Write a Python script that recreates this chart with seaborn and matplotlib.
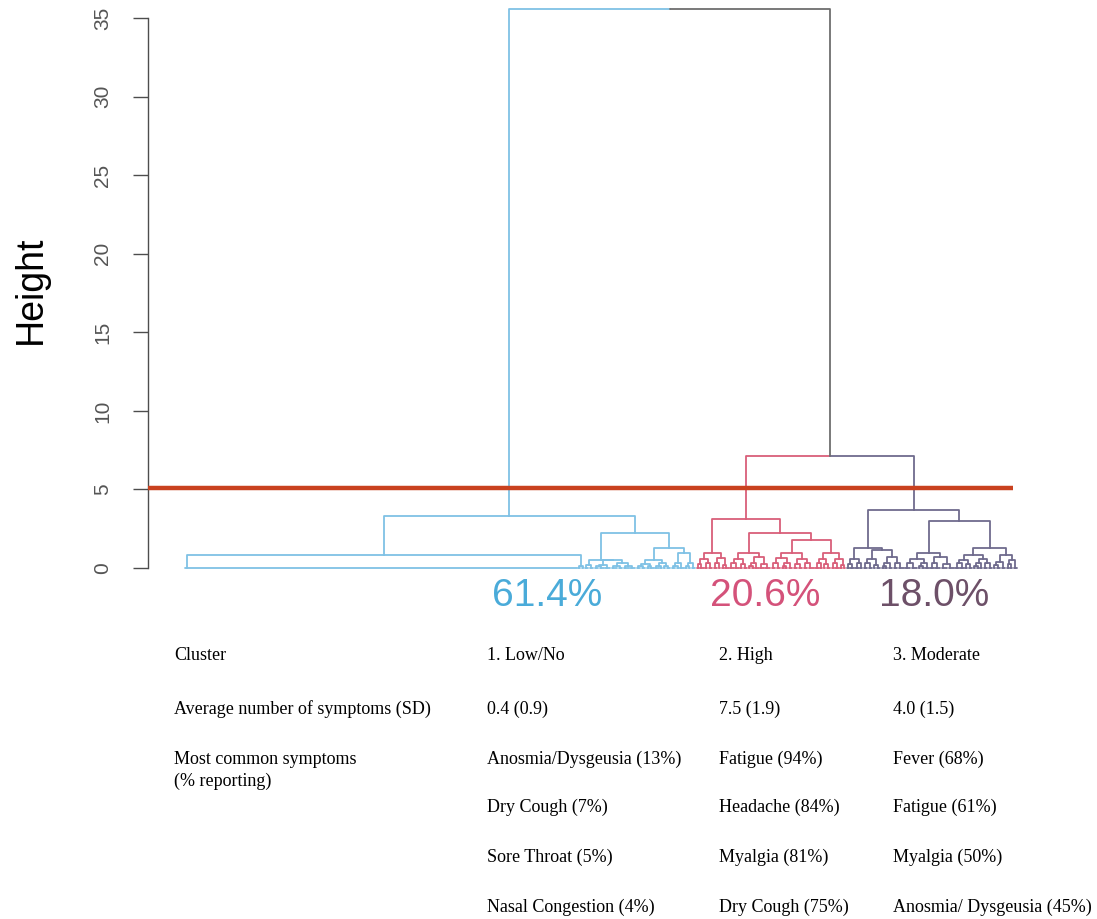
import matplotlib
matplotlib.use("Agg")
import matplotlib.pyplot as plt
import pandas as pd
import seaborn as sns

# Dendrogram subtrees. An internal node is [height, left, right];
# an int is a run of identical respondents that merge at height 0.
low_tree = [3.3,
            [0.83, 236, [0.15, 2, 2]],
            [2.2,
             [0.5, [0.2, 3, 3],
              [0.48, [0.2, [0.1, 3, 3], 4], [0.3, [0.15, 4, 3], [0.12, 4, 4]]]],
             [1.25,
              [0.5, [0.25, [0.1, 3, 3], [0.15, 2, 3]], [0.3, [0.15, 3, 2], [0.1, 2, 3]]],
              [0.95, [0.3, [0.12, 3, 2], 3], [0.35, [0.1, 2, 2], 3]]]]]

high_tree = [3.15,
             [0.97, [0.55, [0.25, 2, 3], [0.3, 2, 3]], [0.65, [0.3, 3, 2], [0.2, 2, 3]]],
             [2.25,
              [0.95, [0.6, [0.3, 3, 3], [0.25, 2, 3]],
               [0.7, [0.35, [0.15, 2, 2], 3], [0.25, 3, 4]]],
              [1.78,
               [0.97, [0.65, [0.3, 3, 3], [0.35, [0.15, 2, 2], 3]],
                [0.55, [0.25, 3, 3], [0.3, 3, 4]]],
               [0.97, [0.6, [0.3, 3, 2], [0.25, 2, 3]], [0.55, [0.3, 2, 3], [0.2, 2, 2]]]]]]

moderate_tree = [3.7,
                 [1.3,
                  [0.6, [0.25, 2, 3], [0.3, 3, 2]],
                  [1.15, [0.6, [0.3, 3, 3], [0.2, 2, 3]],
                   [0.7, [0.35, [0.15, 2, 2], 3], [0.3, 3, 4]]]],
                 [3.0,
                  [0.95, [0.55, [0.3, 4, 4], [0.35, [0.15, 2, 2], 3]],
                   [0.7, [0.3, 3, 4], [0.25, 4, 4]]],
                  [1.27,
                   [0.8, [0.5, [0.3, 3, 3], [0.25, 2, 3]],
                    [0.55, [0.3, [0.15, 2, 2], 2], [0.35, 3, 3]]],
                   [0.85, [0.4, [0.2, 2, 3], 3], [0.5, [0.25, 2, 2], 3]]]]]

merge_high_moderate = 7.1
merge_root = 35.6
cut_height = 5.1

cluster_shares = ["61.4%", "20.6%", "18.0%"]
branch_colors = ["#7fc1e5", "#d95f7a", "#6f6b8d"]
share_colors = ["#4aabd9", "#d4527a", "#6d5068"]
upper_color = "#6e6e6e"
cut_color = "#c9411f"

table_rows = [
    ["Cluster", "1. Low/No", "2. High", "3. Moderate"],
    ["Average number of symptoms (SD)", "0.4 (0.9)", "7.5 (1.9)", "4.0 (1.5)"],
    ["Most common symptoms", "Anosmia/Dysgeusia (13%)", "Fatigue (94%)", "Fever (68%)"],
    ["", "Dry Cough (7%)", "Headache (84%)", "Fatigue (61%)"],
    ["", "Sore Throat (5%)", "Myalgia (81%)", "Myalgia (50%)"],
    ["", "Nasal Congestion (4%)", "Dry Cough (75%)", "Anosmia/ Dysgeusia (45%)"],
]
table_note = "(% reporting)"

# ---- build the line segments of the dendrogram ----
rows = []


def add_segment(xs, ys, color):
    seg = rows[-1][0] + 1 if rows else 0
    for x, y in zip(xs, ys):
        rows.append((seg, x, y, color))


def join(a, b, h, color_a, color_b):
    """Draw the links from children a and b up to a merge at height h."""
    xa, ha = a
    xb, hb = b
    x = (xa + xb) / 2
    add_segment([xa, xa, x], [ha, h, h], color_a)
    add_segment([xb, xb, x], [hb, h, h], color_b)
    return x, h


def layout(node, start, color):
    """Lay out a subtree whose first leaf sits at position `start`."""
    if isinstance(node, int):
        n = node
        if n > 1:
            add_segment([start, start + n - 1], [0, 0], color)
        return (start + 1 - 0.5 ** (n - 1), 0.0), n
    h, left, right = node
    pl, nl = layout(left, start, color)
    pr, nr = layout(right, start + nl, color)
    return join(pl, pr, h, color, color), nl + nr


low_pos, n_low = layout(low_tree, 0, branch_colors[0])
high_pos, n_high = layout(high_tree, n_low, branch_colors[1])
mod_pos, n_mod = layout(moderate_tree, n_low + n_high, branch_colors[2])
n_total = n_low + n_high + n_mod

hm_pos = join(high_pos, mod_pos, merge_high_moderate, branch_colors[1], branch_colors[2])
join(low_pos, hm_pos, merge_root, branch_colors[0], upper_color)

segs = pd.DataFrame(rows, columns=["seg", "x", "y", "color"])

# ---- figure ----
sns.set_theme(style="white")
plt.rcParams["font.family"] = ["Liberation Sans", "DejaVu Sans"]

W, H = 1097, 919
fig = plt.figure(figsize=(W / 100, H / 100), dpi=100)
ax_left, ax_right, ax_top, ax_bottom = 148, 1060, 0, 585
ax = fig.add_axes([ax_left / W, 1 - ax_bottom / H, (ax_right - ax_left) / W,
                   (ax_bottom - ax_top) / H])

sns.lineplot(data=segs, x="x", y="y", units="seg", hue="color",
             palette={c: c for c in segs["color"].unique()},
             estimator=None, sort=False, legend=False, lw=1.3, ax=ax)

x_per_leaf = (1017 - 185) / (n_total - 1)
x0 = -(185 - ax_left) / x_per_leaf
ax.set_xlim(x0, x0 + (ax_right - ax_left) / x_per_leaf)
y_per_unit = 550 / 35
ax.set_ylim(-(ax_bottom - 568) / y_per_unit, 35 + 18 / y_per_unit)

ax.hlines(cut_height, x0, n_total - 3.5, color=cut_color, lw=3.2, zorder=5)

sns.despine(ax=ax, bottom=True)
ax.spines["left"].set_bounds(0, 35)
ax.spines["left"].set_color("#4d4d4d")
ax.spines["left"].set_linewidth(1.0)
ax.set_xticks([])
ax.set_yticks(range(0, 36, 5))
ax.tick_params(axis="y", left=True, length=10.5, width=1.0, color="#4d4d4d",
               pad=15.5, labelsize=15, labelcolor="#555555", labelrotation=90)
for lbl in ax.get_yticklabels():
    lbl.set_fontfamily(["Liberation Sans Narrow", "Liberation Sans", "DejaVu Sans"])
    lbl.set_va("center")
ax.set_xlabel("")
ax.set_ylabel("")

fig.text(31 / W, 1 - 290 / H, "Height", rotation=90, ha="center", va="center",
         fontsize=27, color="black")

# cluster share labels
share_x = [547, 765, 934]
for txt, col, px in zip(cluster_shares, share_colors, share_x):
    fig.text(px / W, 1 - 596 / H, txt, ha="center", va="center",
             fontsize=28, color=col)

# summary table
col_x = [174, 487, 719, 893]
row_y = [656, 709, 759, 807, 857, 907]
serif = ["Liberation Serif", "DejaVu Serif"]
for row, py in zip(table_rows, row_y):
    for txt, px in zip(row, col_x):
        if txt:
            fig.text(px / W, 1 - py / H, txt, ha="left", va="center",
                     fontsize=13, family=serif, color="black")
fig.text(col_x[0] / W, 1 - 781 / H, table_note, ha="left", va="center",
         fontsize=13, family=serif, color="black")

fig.savefig("out.png", dpi=100)
